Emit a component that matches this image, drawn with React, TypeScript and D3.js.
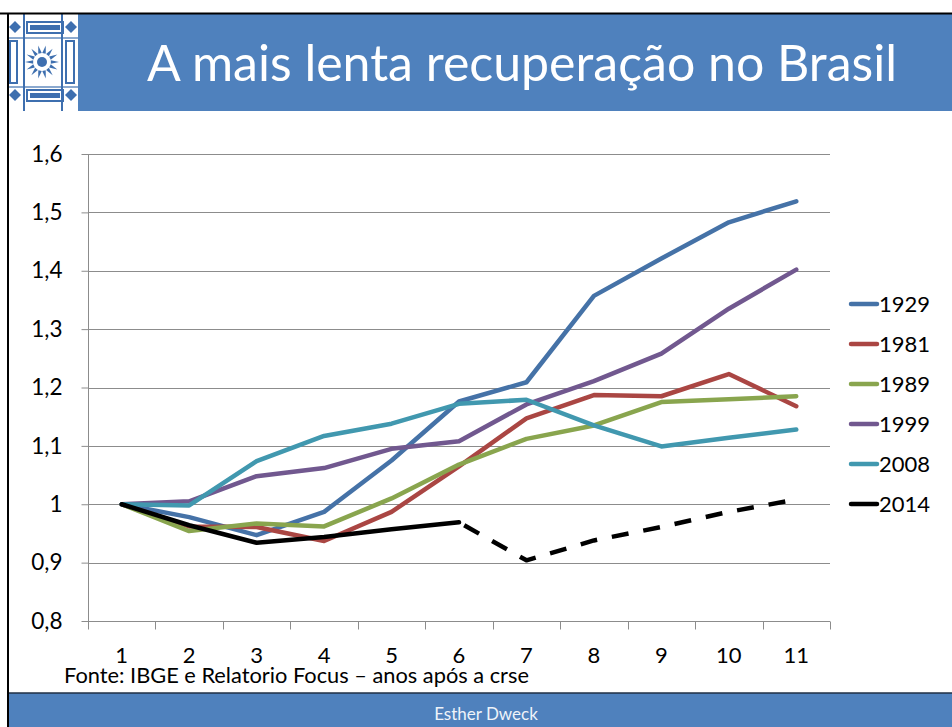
import React, { useEffect, useRef } from 'react';
import * as d3 from 'd3';

// anos após a crise
const categories = ['1', '2', '3', '4', '5', '6', '7', '8', '9', '10', '11'];

const serie1929 = [1.0, 0.978, 0.947, 0.987, 1.075, 1.176, 1.209, 1.357, 1.421, 1.483, 1.519];
const serie1981 = [1.0, 0.962, 0.961, 0.937, 0.987, 1.065, 1.147, 1.187, 1.185, 1.223, 1.168];
const serie1989 = [1.0, 0.954, 0.967, 0.962, 1.01, 1.068, 1.112, 1.135, 1.175, 1.18, 1.185];
const serie1999 = [1.0, 1.005, 1.048, 1.062, 1.095, 1.108, 1.171, 1.211, 1.258, 1.335, 1.402];
const serie2008 = [1.0, 0.998, 1.074, 1.117, 1.138, 1.172, 1.179, 1.135, 1.099, 1.114, 1.128];
const serie2014 = [1.0, 0.964, 0.934, 0.944, 0.957, 0.969, 0.904, 0.938, 0.961, 0.987, 1.008];

const yTicks = [0.8, 0.9, 1.0, 1.1, 1.2, 1.3, 1.4, 1.5, 1.6];

const series = [
  { name: '1929', values: serie1929, color: '#4572A7' },
  { name: '1981', values: serie1981, color: '#AA4643' },
  { name: '1989', values: serie1989, color: '#89A54E' },
  { name: '1999', values: serie1999, color: '#71588F' },
  { name: '2008', values: serie2008, color: '#4198AF' },
  { name: '2014', values: serie2014, color: '#000000' },
];

const FONT = 'Lato, Carlito, Calibri, sans-serif';
const BLUE = '#4F81BD';

function Logo() {
  // azulejo simplificado
  const c = '#3E6FAF';
  const tri = d3.range(14).map(i => {
    const a = (i / 14) * Math.PI * 2;
    const r1 = 9, r2 = 17;
    const p = [
      [42 + Math.cos(a) * r2, 62 + Math.sin(a) * r2],
      [42 + Math.cos(a - 0.2) * r1, 62 + Math.sin(a - 0.2) * r1],
      [42 + Math.cos(a + 0.2) * r1, 62 + Math.sin(a + 0.2) * r1],
    ];
    return p.map(q => q.join(',')).join(' ');
  });
  return (
    <g>
      <rect x={8} y={14} width={70} height={97} fill="#ffffff" />
      <rect x={26} y={21} width={38} height={13} fill={c} />
      <rect x={28} y={23} width={34} height={9} fill="#fff" />
      <rect x={30} y={25} width={30} height={5} fill={c} />
      <rect x={26} y={89} width={38} height={13} fill={c} />
      <rect x={28} y={91} width={34} height={9} fill="#fff" />
      <rect x={30} y={93} width={30} height={5} fill={c} />
      <rect x={9} y={40} width={9} height={44} fill={c} />
      <rect x={11} y={42} width={5} height={40} fill="#fff" />
      <rect x={65} y={40} width={10} height={44} fill={c} />
      <rect x={67} y={42} width={6} height={40} fill="#fff" />
      <rect x={23} y={14} width={2} height={97} fill={c} />
      <rect x={61} y={14} width={2} height={97} fill={c} />
      <rect x={8} y={37} width={70} height={2} fill={c} opacity={0.6} />
      <rect x={8} y={86} width={70} height={2} fill={c} opacity={0.6} />
      {[[15, 27], [71, 27], [15, 95], [71, 95]].map(([x, y], i) => (
        <polygon key={i} points={`${x},${y - 6} ${x + 6},${y} ${x},${y + 6} ${x - 6},${y}`} fill={c} />
      ))}
      {tri.map((p, i) => <polygon key={i} points={p} fill={c} />)}
      <circle cx={42} cy={62} r={5} fill={c} />
    </g>
  );
}

export default function App() {
  const ref = useRef<SVGGElement>(null);

  useEffect(() => {
    const g = d3.select(ref.current);
    g.selectAll('*').remove();

    const left = 88, right = 830, top = 154, bottom = 621;

    const x = d3.scaleBand().domain(categories).range([left, right]).paddingInner(0).paddingOuter(0);
    const y = d3.scaleLinear().domain([0.8, 1.6]).range([bottom, top]);
    const cx = (c: string) => (x(c) as number) + x.bandwidth() / 2;

    // grid
    g.append('g')
      .selectAll('line')
      .data(yTicks)
      .join('line')
      .attr('x1', left)
      .attr('x2', right)
      .attr('y1', d => Math.round(y(d)) + 0.5)
      .attr('y2', d => Math.round(y(d)) + 0.5)
      .attr('stroke', '#8c8c8c')
      .attr('stroke-width', 1);

    // y axis
    const yAxis = g.append('g')
      .attr('transform', `translate(${left + 0.5},0)`)
      .call(d3.axisLeft(y).tickValues(yTicks).tickSize(7).tickPadding(19)
        .tickFormat(d => d3.format('')(+(+d).toFixed(1)).replace('.', ',')));
    yAxis.select('.domain').attr('stroke', '#8c8c8c').attr('d', `M0,${top}V${bottom}`);
    yAxis.selectAll('.tick line').attr('stroke', '#8c8c8c');
    yAxis.selectAll('.tick text')
      .attr('fill', '#000')
      .style('font-family', FONT)
      .style('font-size', '22.5px');

    // x axis
    const xAxis = g.append('g').attr('transform', `translate(0,${Math.round(bottom) + 0.5})`);
    xAxis.append('line').attr('x1', left).attr('x2', right).attr('stroke', '#8c8c8c');
    const bounds = categories.map(c => x(c) as number).concat([right]);
    xAxis.selectAll('line.tk')
      .data(bounds)
      .join('line')
      .attr('class', 'tk')
      .attr('x1', d => Math.round(d) + 0.5)
      .attr('x2', d => Math.round(d) + 0.5)
      .attr('y1', 0)
      .attr('y2', 8)
      .attr('stroke', '#8c8c8c');
    xAxis.selectAll('text')
      .data(categories)
      .join('text')
      .attr('x', d => cx(d))
      .attr('y', 41)
      .attr('text-anchor', 'middle')
      .style('font-family', FONT)
      .style('font-size', '22px')
      .text(d => d);

    // lines
    const line = d3.line<number>()
      .x((d, i) => cx(categories[i]))
      .y(d => y(d));

    series.forEach(s => {
      if (s.name === '2014') {
        g.append('path')
          .datum(s.values.slice(0, 6))
          .attr('fill', 'none')
          .attr('stroke', s.color)
          .attr('stroke-width', 4.5)
          .attr('stroke-linejoin', 'round')
          .attr('stroke-linecap', 'round')
          .attr('d', line);
        const dashLine = d3.line<number>()
          .x((d, i) => cx(categories[i + 5]))
          .y(d => y(d));
        g.append('path')
          .datum(s.values.slice(5))
          .attr('fill', 'none')
          .attr('stroke', s.color)
          .attr('stroke-width', 4.5)
          .attr('stroke-linejoin', 'round')
          .attr('stroke-dasharray', '17,15')
          .attr('stroke-dashoffset', -6)
          .attr('d', dashLine);
      } else {
        g.append('path')
          .datum(s.values)
          .attr('fill', 'none')
          .attr('stroke', s.color)
          .attr('stroke-width', 4.5)
          .attr('stroke-linejoin', 'round')
          .attr('stroke-linecap', 'round')
          .attr('d', line);
      }
    });

    // legend
    const legend = g.append('g').attr('transform', 'translate(850,304)');
    const item = legend.selectAll('g')
      .data(series)
      .join('g')
      .attr('transform', (d, i) => `translate(0,${i * 40})`);
    item.append('line')
      .attr('x1', 1).attr('x2', 27)
      .attr('stroke', d => d.color)
      .attr('stroke-width', 4.5)
      .attr('stroke-linecap', 'round');
    item.append('text')
      .attr('x', 29)
      .attr('y', 8)
      .style('font-family', FONT)
      .style('font-size', '22px')
      .text(d => d.name);
  }, []);

  return (
    <svg width={952} height={727} style={{ position: 'absolute', left: 0, top: 0 }}>
      <rect x={0} y={0} width={952} height={727} fill="#ffffff" />
      <rect x={78} y={14} width={874} height={97} fill={BLUE} />
      <Logo />
      <text x={522} y={81} textAnchor="middle" fill="#ffffff"
        style={{ fontFamily: FONT, fontSize: 50 }}>
        A mais lenta recuperação no Brasil
      </text>
      <g ref={ref} />
      <text x={64} y={683} style={{ fontFamily: FONT, fontSize: 21.8 }}>
        Fonte: IBGE e Relatorio Focus – anos após a crse
      </text>
      <rect x={8} y={693} width={944} height={34} fill={BLUE} />
      <line x1={8} x2={952} y1={693} y2={693} stroke="#1f2f45" strokeWidth={1.5} />
      <text x={486} y={720} textAnchor="middle" fill="#eef3f9"
        style={{ fontFamily: FONT, fontSize: 17 }}>
        Esther Dweck
      </text>
      <line x1={0} x2={952} y1={13.5} y2={13.5} stroke="#000" strokeWidth={2} />
      <line x1={8} x2={8} y1={13} y2={727} stroke="#000" strokeWidth={2} />
    </svg>
  );
}
